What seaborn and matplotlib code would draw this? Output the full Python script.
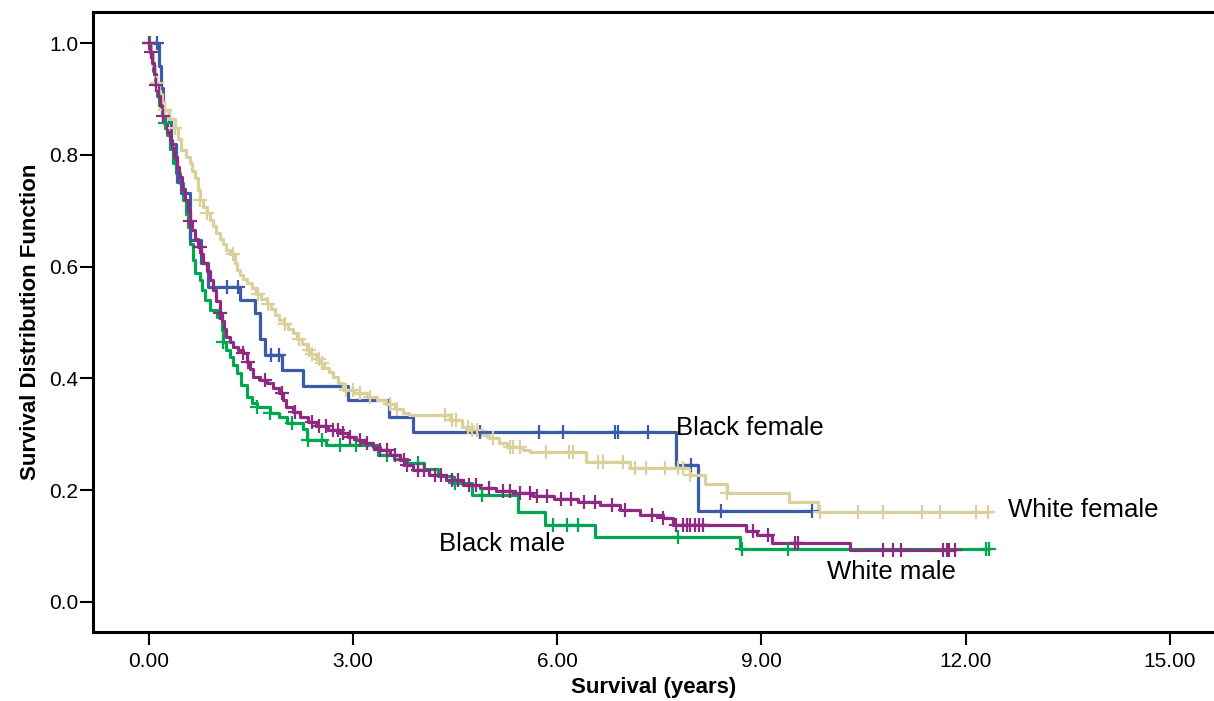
import numpy as np
import pandas as pd
import matplotlib
matplotlib.use("Agg")
import matplotlib.pyplot as plt
import seaborn as sns

# ---- Kaplan-Meier estimates: time (years) at which survival drops, new survival level
bf_time = [0.15, 0.18, 0.21, 0.30, 0.33, 0.40, 0.42, 0.47, 0.60, 0.77, 0.87, 1.34, 1.56,
           1.63, 1.70, 1.95, 2.27, 2.93, 3.53, 3.88, 7.75, 8.07]
bf_surv = [0.96, 0.92, 0.88, 0.86, 0.82, 0.79, 0.752, 0.732, 0.648, 0.607, 0.564, 0.540,
           0.517, 0.470, 0.442, 0.415, 0.387, 0.361, 0.331, 0.304, 0.245, 0.163]
bf_end = 9.74
bf_censor = [0.12, 1.15, 1.31, 1.80, 1.92, 4.86, 5.74, 6.08, 6.85, 6.90, 7.34, 7.96, 8.41, 9.74]

wf_time = [0.03, 0.06, 0.09, 0.11, 0.15, 0.19, 0.23, 0.30, 0.38, 0.43, 0.48, 0.54, 0.60,
           0.64, 0.68, 0.72, 0.75, 0.80, 0.85, 0.90, 0.95, 0.99, 1.04, 1.09, 1.14, 1.20,
           1.26, 1.29, 1.34, 1.39, 1.44, 1.51, 1.58, 1.65, 1.73, 1.80, 1.86, 1.92, 1.99,
           2.05, 2.12, 2.18, 2.25, 2.32, 2.38, 2.45, 2.51, 2.58, 2.65, 2.71, 2.78, 2.85,
           3.02, 3.20, 3.35, 3.49, 3.62, 3.74, 3.83, 4.42, 4.60, 4.72, 4.85, 5.00, 5.15,
           5.26, 5.50, 5.60, 6.43, 7.07, 7.95, 8.17, 8.49, 9.41, 9.83]
wf_surv = [0.980, 0.960, 0.940, 0.928, 0.910, 0.895, 0.881, 0.865, 0.848, 0.828, 0.809,
           0.797, 0.785, 0.771, 0.758, 0.738, 0.719, 0.707, 0.696, 0.684, 0.672, 0.660,
           0.650, 0.640, 0.630, 0.622, 0.606, 0.594, 0.586, 0.578, 0.570, 0.561, 0.552,
           0.543, 0.534, 0.524, 0.514, 0.505, 0.497, 0.489, 0.481, 0.471, 0.461, 0.451,
           0.443, 0.435, 0.427, 0.419, 0.411, 0.403, 0.391, 0.379, 0.373, 0.367, 0.361,
           0.355, 0.346, 0.338, 0.334, 0.325, 0.313, 0.307, 0.299, 0.293, 0.285, 0.277,
           0.272, 0.269, 0.251, 0.239, 0.227, 0.211, 0.195, 0.179, 0.161]
wf_end = 12.35
wf_censor = [0.0, 0.12, 0.24, 0.38, 0.75, 0.85, 1.24, 1.60, 1.75, 2.00, 2.20, 2.35, 2.40,
             2.50, 2.55, 2.90, 3.00, 3.10, 3.25, 3.55, 3.65, 4.35, 4.45, 4.52, 4.69, 4.75,
             4.82, 5.05, 5.30, 5.35, 5.45, 5.84, 6.18, 6.23, 6.60, 6.67, 6.96, 7.15, 7.30,
             7.58, 7.77, 7.85, 7.95, 8.49, 9.86, 10.42, 10.78, 11.36, 11.62, 12.16, 12.33]

bm_time = [0.03, 0.06, 0.09, 0.12, 0.15, 0.19, 0.23, 0.27, 0.31, 0.35, 0.40, 0.455, 0.50,
           0.54, 0.57, 0.61, 0.65, 0.68, 0.75, 0.78, 0.82, 0.90, 1.00, 1.07, 1.09, 1.14,
           1.19, 1.24, 1.29, 1.36, 1.44, 1.51, 1.59, 1.78, 1.92, 2.03, 2.26, 2.32, 2.60,
           3.37, 3.60, 3.80, 4.05, 4.25, 4.45, 4.75, 5.42, 5.82, 6.55, 8.68]
bm_surv = [0.975, 0.950, 0.925, 0.905, 0.890, 0.872, 0.857, 0.835, 0.810, 0.785, 0.768,
           0.750, 0.720, 0.695, 0.671, 0.640, 0.612, 0.589, 0.576, 0.558, 0.540, 0.522,
           0.510, 0.487, 0.465, 0.450, 0.438, 0.424, 0.409, 0.388, 0.367, 0.356, 0.349,
           0.338, 0.331, 0.320, 0.310, 0.290, 0.280, 0.263, 0.255, 0.248, 0.238, 0.225,
           0.212, 0.192, 0.161, 0.1375, 0.116, 0.094]
bm_end = 12.35
bm_censor = [0.02, 0.24, 1.09, 1.59, 1.78, 2.10, 2.34, 2.55, 2.81, 3.05, 3.50, 3.95, 4.50,
             4.90, 5.94, 6.14, 6.30, 7.78, 8.72, 9.39, 12.30, 12.35]

wm_time = [0.02, 0.05, 0.08, 0.11, 0.14, 0.17, 0.21, 0.24, 0.27, 0.31, 0.34, 0.37, 0.41,
           0.45, 0.49, 0.53, 0.57, 0.60, 0.64, 0.68, 0.72, 0.76, 0.80, 0.85, 0.90, 0.94,
           0.99, 1.04, 1.07, 1.11, 1.14, 1.19, 1.24, 1.31, 1.39, 1.44, 1.49, 1.53, 1.63,
           1.73, 1.82, 1.92, 1.97, 2.02, 2.12, 2.22, 2.34, 2.46, 2.63, 2.81, 2.93, 3.05,
           3.18, 3.30, 3.39, 3.54, 3.69, 3.78, 3.88, 4.12, 4.37, 4.61, 4.86, 5.10, 5.35,
           5.65, 5.96, 6.30, 6.63, 6.92, 7.21, 7.55, 7.70, 8.78, 8.93, 9.15, 10.30]
wm_surv = [0.985, 0.965, 0.945, 0.925, 0.905, 0.888, 0.869, 0.855, 0.842, 0.827, 0.812,
           0.796, 0.779, 0.760, 0.740, 0.719, 0.700, 0.681, 0.665, 0.650, 0.636, 0.622,
           0.607, 0.592, 0.576, 0.558, 0.538, 0.517, 0.503, 0.488, 0.475, 0.466, 0.457,
           0.451, 0.445, 0.430, 0.416, 0.403, 0.397, 0.391, 0.382, 0.373, 0.361, 0.349,
           0.340, 0.331, 0.322, 0.314, 0.308, 0.302, 0.296, 0.290, 0.284, 0.278, 0.272,
           0.263, 0.254, 0.245, 0.236, 0.227, 0.218, 0.210, 0.203, 0.198, 0.194, 0.189,
           0.184, 0.178, 0.173, 0.164, 0.155, 0.150, 0.138, 0.126, 0.120, 0.105, 0.093]
wm_end = 11.84
wm_censor = [0.01, 0.03, 0.11, 0.21, 0.60, 0.75, 1.04, 1.39, 1.45, 1.70, 1.95, 2.15, 2.40,
             2.50, 2.60, 2.70, 2.78, 2.85, 2.95, 3.10, 3.20, 3.40, 3.50, 3.62, 3.75, 3.80,
             3.95, 4.05, 4.20, 4.30, 4.45, 4.55, 4.70, 4.80, 5.00, 5.20, 5.30, 5.45, 5.60,
             5.70, 5.85, 6.05, 6.20, 6.40, 6.55, 6.80, 7.00, 7.40, 7.56, 7.75, 7.85, 7.90,
             7.95, 8.02, 8.09, 8.14, 8.88, 9.09, 9.49, 9.54, 10.78, 10.93, 11.05, 11.67,
             11.72, 11.76, 11.84]

group_names = ["Black male", "Black female", "White female", "White male"]
group_colors = ["#00A650", "#3A5BA8", "#D9D09C", "#8E2A82"]
x_ticks = [0, 3, 6, 9, 12, 15]
y_ticks = [0.0, 0.2, 0.4, 0.6, 0.8, 1.0]

series = {
    "Black male": (bm_time, bm_surv, bm_end, bm_censor),
    "Black female": (bf_time, bf_surv, bf_end, bf_censor),
    "White female": (wf_time, wf_surv, wf_end, wf_censor),
    "White male": (wm_time, wm_surv, wm_end, wm_censor),
}

curve_rows, censor_rows = [], []
for name, (t, s, end, cens) in series.items():
    tt = [0.0] + list(t) + [end]
    ss = [1.0] + list(s) + [s[-1]]
    for a, b in zip(tt, ss):
        curve_rows.append((name, a, b))
    tt_arr = np.array(tt)
    ss_arr = np.array(ss)
    for c in cens:
        idx = np.searchsorted(tt_arr, c, side="right") - 1
        censor_rows.append((name, c, ss_arr[max(idx, 0)]))

curves = pd.DataFrame(curve_rows, columns=["group", "years", "survival"])
censored = pd.DataFrame(censor_rows, columns=["group", "years", "survival"])
palette = dict(zip(group_names, group_colors))

sns.set_style("white")
plt.rcParams["font.family"] = ["Liberation Sans", "DejaVu Sans"]
plt.rcParams["text.color"] = "black"
plt.rcParams["axes.labelcolor"] = "black"

fig = plt.figure(figsize=(12.14, 7.01), dpi=100)
ax = fig.add_axes([93 / 1214, 69 / 701, 1 - 93 / 1214, (632 - 12) / 701])

for name in group_names:
    sub = curves[curves["group"] == name]
    sns.lineplot(data=sub, x="years", y="survival", color=palette[name],
                 estimator=None, sort=False, drawstyle="steps-post",
                 linewidth=2.3, ax=ax, legend=False)
    csub = censored[censored["group"] == name]
    sns.scatterplot(data=csub, x="years", y="survival", color=palette[name],
                    marker="+", s=110, linewidth=1.6, ax=ax, legend=False, zorder=3)

ax.set_xlim(-0.82, 15.65)
ax.set_ylim(-0.054, 1.056)
ax.set_xticks(x_ticks)
ax.set_xticklabels([f"{v:.2f}" for v in x_ticks])
ax.set_yticks(y_ticks)
ax.set_yticklabels([f"{v:.1f}" for v in y_ticks])

for side in ["left", "bottom", "top"]:
    ax.spines[side].set_visible(True)
    ax.spines[side].set_color("black")
    ax.spines[side].set_linewidth(2.2)
ax.spines["right"].set_visible(False)

ax.tick_params(axis="both", which="major", direction="out", length=9.5, width=1.5,
               color="black", labelsize=15, labelcolor="black",
               bottom=True, left=True, top=False, right=False)
ax.tick_params(axis="y", pad=1)
ax.tick_params(axis="x", pad=5)

ax.set_xlabel("Survival (years)", fontsize=16, fontweight="bold", labelpad=4)
ax.set_ylabel("Survival Distribution Function", fontsize=16, fontweight="bold", labelpad=6)

label_kw = dict(fontsize=18.5, color="black", ha="left", va="center")
ax.text(7.74, 0.311, "Black female", **label_kw)
ax.text(12.63, 0.164, "White female", **label_kw)
ax.text(4.27, 0.103, "Black male", **label_kw)
ax.text(9.97, 0.053, "White male", **label_kw)

fig.savefig("out.png", dpi=100)
